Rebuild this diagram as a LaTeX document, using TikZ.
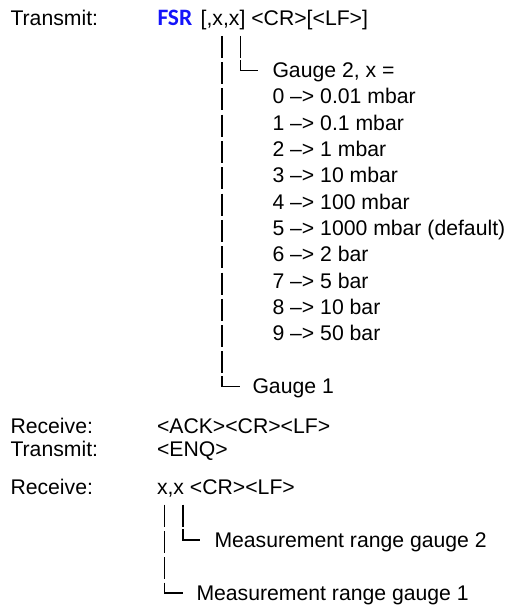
\documentclass[tikz,border=0pt]{standalone}
\usepackage{fontspec}
\setmainfont{Liberation Sans}
\newfontfamily\fsrfont{Carlito}
\definecolor{fsrblue}{RGB}{20,20,250}
\tikzset{
  txt/.style={inner sep=0pt, outer sep=0pt, anchor=base west,
    font=\fontsize{21.2}{26}\selectfont},
  fsrtxt/.style={txt, text=fsrblue, font=\fsrfont\bfseries\fontsize{23.5}{26}\selectfont},
  barline/.style={line width=1.3pt, dash pattern=on 22pt off 4.3pt},
  cornerline/.style={line width=1.3pt},
}
\begin{document}
\begin{tikzpicture}[x=1pt, y=-1pt]
\useasboundingbox (0,0) rectangle (509,606);
% ---- first transmit block
\node[txt] (t1) at (10.5,25) {Transmit:};
\node[fsrtxt] (fsr) at (157.5,25) {FSR};
\node[txt, xshift=2.5pt] (cmd) at (fsr.base east) {\ [,x,x] <CR>[<LF>]};
\node[txt] (g2) at (272.5,77.6) {Gauge 2, x =};
\node[txt] (r0) at (272.5,103.9) {0 –> 0.01 mbar};
\node[txt] (r1) at (272.5,130.2) {1 –> 0.1 mbar};
\node[txt] (r2) at (272.5,156.5) {2 –> 1 mbar};
\node[txt] (r3) at (272.5,182.8) {3 –> 10 mbar};
\node[txt] (r4) at (272.5,209.1) {4 –> 100 mbar};
\node[txt] (r5) at (272.5,235.4) {5 –> 1000 mbar (default)};
\node[txt] (r6) at (272.5,261.7) {6 –> 2 bar};
\node[txt] (r7) at (272.5,288.0) {7 –> 5 bar};
\node[txt] (r8) at (272.5,314.3) {8 –> 10 bar};
\node[txt] (r9) at (272.5,340.6) {9 –> 50 bar};
\node[txt] (g1) at (252.5,393.2) {Gauge 1};
% bars of the first block
\coordinate (b1top) at (222,35.8);
\coordinate (b1end) at (222,373.5);
\coordinate (b1c) at (222,376);
\coordinate (b1h) at (222,386.5);
\coordinate (b2top) at (240.5,35.8);
\coordinate (b2end) at (240.5,57.8);
\coordinate (b2c) at (240.5,60.3);
\coordinate (b2h) at (240.5,70.8);
\draw[barline] (b1top) -- (b1end);
\draw[cornerline] (b1c) -- (b1h) -- ++(18,0);
\draw[barline] (b2top) -- (b2end);
\draw[cornerline] (b2c) -- (b2h) -- ++(17,0);
% ---- middle lines
\node[txt] (rc1) at (10.5,433) {Receive:};
\node[txt] (ack) at (157,433) {<ACK><CR><LF>};
\node[txt] (t2) at (10.5,456) {Transmit:};
\node[txt] (enq) at (157,456) {<ENQ>};
% ---- receive block
\node[txt] (rc2) at (10.5,494) {Receive:};
\node[txt] (ans) at (157,494) {x,x <CR><LF>};
\node[txt] (m2) at (214.5,547) {Measurement range gauge 2};
\node[txt] (m1) at (196.5,600) {Measurement range gauge 1};
\coordinate (b3top) at (164.5,504.5);
\coordinate (b3end) at (164.5,580);
\coordinate (b3c) at (164.5,582.5);
\coordinate (b3h) at (164.5,593);
\coordinate (b4top) at (183,504.5);
\coordinate (b4end) at (183,526.5);
\coordinate (b4c) at (183,529);
\coordinate (b4h) at (183,540);
\draw[barline] (b3top) -- (b3end);
\draw[cornerline] (b3c) -- (b3h) -- ++(18,0);
\draw[barline] (b4top) -- (b4end);
\draw[cornerline] (b4c) -- (b4h) -- ++(17,0);
\end{tikzpicture}
\end{document}
